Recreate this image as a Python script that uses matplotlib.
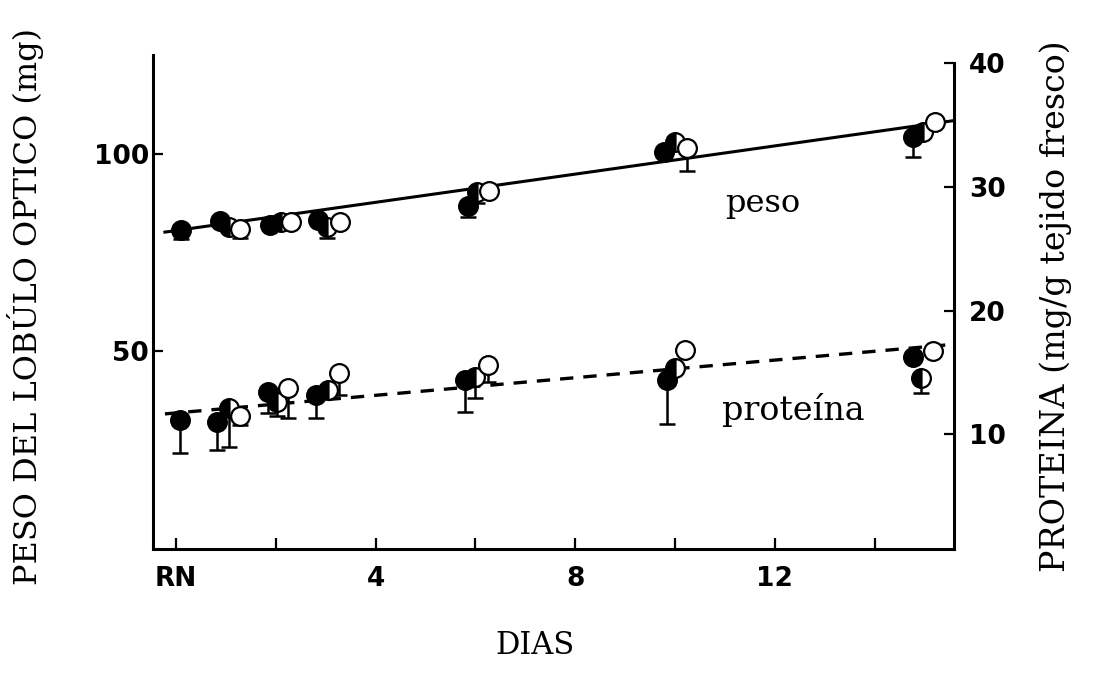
"""Peso del lóbulo óptico y contenido de proteína frente a la edad (días)."""

import matplotlib

matplotlib.use('Agg')
import matplotlib.pyplot as plt
import numpy as np

# --- datos -----------------------------------------------------------------
# peso del lóbulo óptico (mg), eje izquierdo
peso_dias_llenos = [0.10, 0.88, 1.88, 2.85, 5.85, 9.78, 14.77]
peso_llenos = [80.8, 82.9, 82.0, 83.3, 86.9, 100.6, 104.4]
peso_err_llenos = [2.3, 0.0, 0.0, 0.0, 2.8, 0.0, 5.0]

peso_dias_medios = [1.06, 2.10, 3.03, 6.03, 10.00, 14.97]
peso_medios = [81.5, 82.8, 81.5, 90.3, 103.1, 105.7]
peso_err_medios = [0.0, 0.0, 2.8, 2.8, 0.0, 0.0]

peso_dias_vacios = [1.28, 2.30, 3.29, 6.27, 10.24, 15.21]
peso_vacios = [81.0, 82.8, 82.8, 90.6, 101.6, 108.2]
peso_err_vacios = [2.3, 0.0, 0.0, 0.0, 5.8, 0.0]

peso_recta_dias = [-0.22, 15.57]
peso_recta = [80.2, 108.5]

# proteína (mg/g tejido fresco), eje derecho
prot_dias_llenos = [0.08, 0.82, 1.84, 2.80, 5.79, 9.84, 14.77]
prot_llenos = [11.16, 11.03, 13.45, 13.18, 14.40, 14.40, 16.28]
prot_err_llenos = [2.64, 2.29, 1.75, 1.88, 2.61, 3.58, 0.0]

prot_dias_medios = [1.06, 2.02, 3.05, 5.99, 10.00, 14.93]
prot_medios = [12.11, 12.64, 13.59, 14.66, 15.34, 14.54]
prot_err_medios = [3.11, 1.15, 0.0, 1.74, 0.0, 1.22]

prot_dias_vacios = [1.28, 2.24, 3.27, 6.25, 10.20, 15.17]
prot_vacios = [11.51, 13.73, 14.94, 15.61, 16.82, 16.74]
prot_err_vacios = [0.76, 2.43, 1.76, 1.35, 0.0, 0.0]

prot_recta_dias = [-0.22, 15.45]
prot_recta = [11.65, 17.23]

x_ticks = [0, 2, 4, 6, 8, 10, 12, 14]
x_ticklabels = ['RN', '', '4', '', '8', '', '12', '']
peso_ticks = [50, 100]
prot_ticks = [10, 20, 30, 40]

# --- estilo ----------------------------------------------------------------
SERIF = ['DejaVu Serif']
TICKFONT = dict(family='DejaVu Sans', weight='bold', size=19)
MS = 13.5
MEW = 1.6


def _puntos(ax, dias, valores, errores, relleno):
    dias = np.asarray(dias)
    valores = np.asarray(valores)
    errores = np.asarray(errores)
    con = errores > 0
    if con.any():
        ax.errorbar(dias[con], valores[con],
                    yerr=[errores[con], np.zeros(con.sum())],
                    fmt='none', ecolor='black', elinewidth=1.8,
                    capsize=5.5, capthick=1.8, zorder=3)
    kw = dict(marker='o', ms=MS, mew=MEW, mec='black', ls='none', zorder=4)
    if relleno == 'lleno':
        ax.plot(dias, valores, mfc='black', **kw)
    elif relleno == 'medio':
        ax.plot(dias, valores, mfc='black', fillstyle='left',
                markerfacecoloralt='white', **kw)
    else:
        ax.plot(dias, valores, mfc='white', **kw)


fig = plt.figure(figsize=(10.98, 6.73), dpi=100)
ax = fig.add_axes([0.1393, 0.1843, 0.7296, 0.7340])
ax2 = ax.twinx()

ax.set_xlim(-0.46, 15.59)
ax.set_ylim(-0.3, 125.2)
ax2.set_ylim(0.73, 40.67)

# rectas de ajuste
ax.plot(peso_recta_dias, peso_recta, color='black', lw=2.2, zorder=2)
ax2.plot(prot_recta_dias, prot_recta, color='black', lw=2.4,
         dashes=(4.0, 3.0), zorder=2)

_puntos(ax, peso_dias_llenos, peso_llenos, peso_err_llenos, 'lleno')
_puntos(ax, peso_dias_medios, peso_medios, peso_err_medios, 'medio')
_puntos(ax, peso_dias_vacios, peso_vacios, peso_err_vacios, 'vacio')

_puntos(ax2, prot_dias_llenos, prot_llenos, prot_err_llenos, 'lleno')
_puntos(ax2, prot_dias_medios, prot_medios, prot_err_medios, 'medio')
_puntos(ax2, prot_dias_vacios, prot_vacios, prot_err_vacios, 'vacio')

# ejes y marcas
for a in (ax, ax2):
    a.spines['top'].set_visible(False)
    for s in a.spines.values():
        s.set_linewidth(2.2)
ax2.spines['left'].set_visible(False)
ax2.spines['bottom'].set_visible(False)
ax.spines['right'].set_visible(False)
ax2.spines['right'].set_bounds(0.73, 40.0)

ax.set_xticks(x_ticks)
ax.set_xticklabels(x_ticklabels, fontdict=TICKFONT)
ax.set_yticks(peso_ticks)
ax.set_yticklabels([str(t) for t in peso_ticks], fontdict=TICKFONT)
ax2.set_yticks(prot_ticks)
ax2.set_yticklabels([str(t) for t in prot_ticks], fontdict=TICKFONT)

ax.tick_params(axis='x', direction='in', length=8, width=1.6, pad=12)
ax.tick_params(axis='y', direction='in', length=7, width=1.6, pad=3)
ax2.tick_params(axis='y', direction='in', length=7, width=1.6, pad=11)

# rótulos
ax.text(11.76, 87.5, 'peso', family=SERIF, size=23, ha='center', va='center')
ax.text(12.36, 35.0, 'proteína', family=SERIF, size=24, ha='center', va='center')

fig.text(0.023, 0.545, 'PESO DEL LOBÚLO OPTICO (mg)', family=SERIF, size=23,
         rotation=90, ha='center', va='center')
fig.text(0.961, 0.545, 'PROTEINA (mg/g tejido fresco)', family=SERIF, size=24,
         rotation=90, ha='center', va='center')
fig.text(0.487, 0.018, 'DIAS', family=SERIF, size=22, ha='center', va='bottom')

fig.savefig('out.png', dpi=100)
